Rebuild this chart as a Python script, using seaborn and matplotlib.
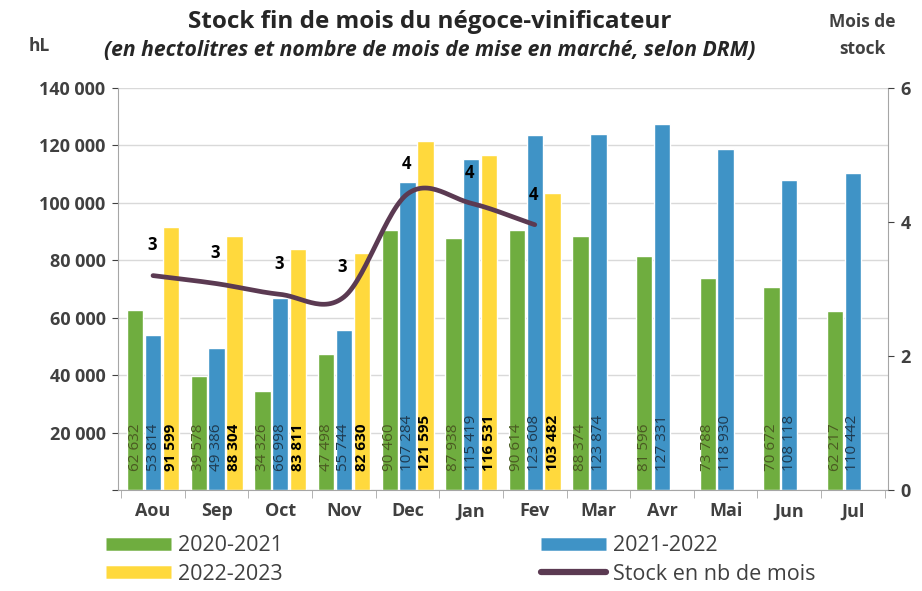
import numpy as np
import pandas as pd
import matplotlib
matplotlib.use('Agg')
import matplotlib.pyplot as plt
import seaborn as sns
from matplotlib.lines import Line2D
from matplotlib.ticker import FuncFormatter, FixedLocator

mois = ['Aou', 'Sep', 'Oct', 'Nov', 'Dec', 'Jan', 'Fev', 'Mar', 'Avr', 'Mai', 'Jun', 'Jul']
campagnes = ['2020-2021', '2021-2022', '2022-2023']
stock_2020 = [62632, 39578, 34326, 47498, 90460, 87938, 90614, 88374, 81596, 73788, 70672, 62217]
stock_2021 = [53814, 49386, 66998, 55744, 107284, 115419, 123608, 123874, 127331, 118930, 108118, 110442]
stock_2022 = [91599, 88304, 83811, 82630, 121595, 116531, 103482]
nb_mois = [3.2, 3.08, 2.92, 2.88, 4.42, 4.28, 3.96]
nb_mois_lbl = ['3', '3', '3', '3', '4', '4', '4']

couleurs = ['#6fad3f', '#3f93c6', '#ffd93d']
violet = '#5b3a52'
gris = '#404040'

rows = []
for camp, vals in zip(campagnes, [stock_2020, stock_2021, stock_2022]):
    for i, m in enumerate(mois):
        rows.append({'mois': m, 'campagne': camp, 'hl': vals[i] if i < len(vals) else np.nan})
df = pd.DataFrame(rows)

sns.set_style('white')
plt.rcParams['font.family'] = ['Open Sans', 'DejaVu Sans']

fig = plt.figure(figsize=(9.22, 5.91), dpi=100)
ax = fig.add_axes([0.128, 0.171, 0.835, 0.68])

sns.barplot(data=df, x='mois', y='hl', hue='campagne', order=mois, hue_order=campagnes,
            palette=couleurs, width=0.84, gap=0.08, saturation=1, ax=ax, legend=False)

# valeurs dans les barres
txt_col = ['#4a5a22', '#1f3a50', 'black']
for k, cont in enumerate(ax.containers):
    vals = [stock_2020, stock_2021, stock_2022][k]
    for j, p in enumerate(cont.patches):
        if j >= len(vals):
            continue
        lbl = f'{vals[j]:,}'.replace(',', ' ')
        ax.text(p.get_x() + p.get_width() / 2, 6500, lbl, rotation=90, ha='center', va='bottom',
                fontsize=11, color=txt_col[k], fontweight='bold' if k == 2 else 'normal')

ax.set_ylim(0, 140000)
ax.set_xlim(-0.55, 11.55)
ax.yaxis.set_major_locator(FixedLocator(range(0, 140001, 20000)))
ax.yaxis.set_major_formatter(FuncFormatter(lambda v, p: '' if v == 0 else f'{int(v):,}'.replace(',', ' ')))
ax.grid(axis='y', color='#d9d9d9', lw=1)
ax.set_axisbelow(True)
ax.set_xlabel('')
ax.set_ylabel('')
ax.tick_params(axis='y', labelsize=13, colors=gris, length=4, left=True, pad=5)
for t in ax.get_yticklabels():
    t.set_fontweight('bold')
ax.set_xticks(range(12))
ax.set_xticklabels(mois, fontsize=13, color=gris, fontweight='bold')
ax.tick_params(axis='x', length=0, pad=9)
ax.set_xticks(np.arange(-0.5, 12, 1), minor=True)
ax.tick_params(axis='x', which='minor', length=6, color='#a6a6a6', bottom=True)
for s in ['left', 'right', 'bottom']:
    ax.spines[s].set_color('#a6a6a6')
ax.spines['top'].set_visible(False)

# axe secondaire : mois de stock
ax2 = ax.twinx()
ax2.set_ylim(0, 6)
ax2.set_yticks([0, 2, 4, 6])
ax2.tick_params(axis='y', labelsize=13, colors=gris, length=4, pad=5)
for t in ax2.get_yticklabels():
    t.set_fontweight('bold')
for s in ['left', 'right', 'bottom', 'top']:
    ax2.spines[s].set_visible(False)

# courbe lissée (catmull-rom)
xs = np.arange(len(nb_mois), dtype=float)
ys = np.array(nb_mois)
px = np.concatenate([[2 * xs[0] - xs[1]], xs, [2 * xs[-1] - xs[-2]]])
py = np.concatenate([[2 * ys[0] - ys[1]], ys, [2 * ys[-1] - ys[-2]]])
cx, cy = [], []
t = np.linspace(0, 1, 30)
for i in range(1, len(px) - 2):
    for arr, out in ((px, cx), (py, cy)):
        p0, p1, p2, p3 = arr[i - 1], arr[i], arr[i + 1], arr[i + 2]
        out.extend(0.5 * (2 * p1 + (-p0 + p2) * t + (2 * p0 - 5 * p1 + 4 * p2 - p3) * t ** 2
                          + (-p0 + 3 * p1 - 3 * p2 + p3) * t ** 3))
sns.lineplot(x=cx, y=cy, ax=ax2, color=violet, lw=3.4, sort=False)
for i, (v, l) in enumerate(zip(nb_mois, nb_mois_lbl)):
    ax2.text(i - 0.02, v + 0.45, l, ha='center', va='center', fontsize=12, fontweight='bold', color='black')

fig.text(0.466, 0.963, 'Stock fin de mois du négoce-vinificateur', ha='center', va='center',
         fontsize=17.5, fontweight='bold', color='#262626')
fig.text(0.466, 0.915, '(en hectolitres et nombre de mois de mise en marché, selon DRM)', ha='center',
         va='center', fontsize=15.2, style='italic', fontweight='bold', color='#262626')
fig.text(0.043, 0.923, 'hL', ha='center', va='center', fontsize=12.5, fontweight='bold', color=gris)
fig.text(0.935, 0.94, 'Mois de\nstock', ha='center', va='center', fontsize=12.5, fontweight='bold',
         color=gris, linespacing=1.7)

handles = [Line2D([], [], color=couleurs[0], lw=9, solid_capstyle='butt'),
           Line2D([], [], color=couleurs[2], lw=9, solid_capstyle='butt'),
           Line2D([], [], color=couleurs[1], lw=9, solid_capstyle='butt'),
           Line2D([], [], color=violet, lw=4.5, solid_capstyle='round')]
labels = ['2020-2021', '2022-2023', '2021-2022', 'Stock en nb de mois']
fig.legend(handles, labels, ncol=2, loc='lower left', bbox_to_anchor=(0.094, -0.022), frameon=False,
           fontsize=15.5, handlelength=3.0, handletextpad=0.35, columnspacing=12.0, labelspacing=0.35,
           labelcolor=gris)

fig.savefig('out.png', dpi=100)
